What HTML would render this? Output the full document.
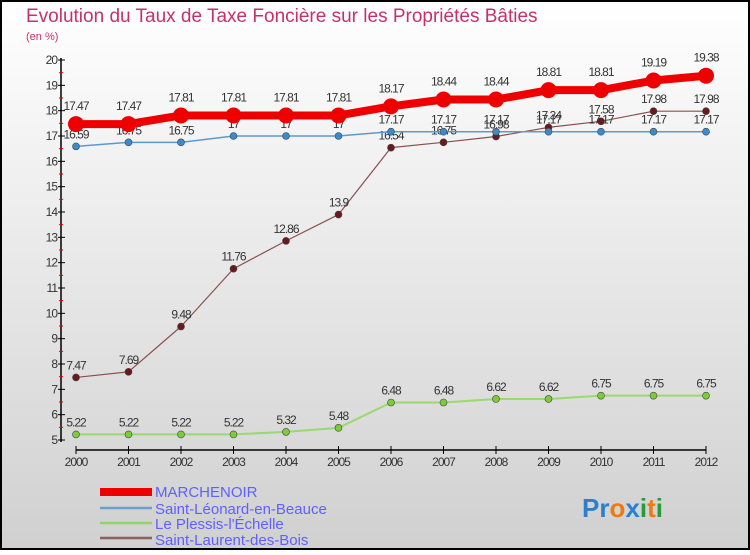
<!DOCTYPE html>
<html><head><meta charset="utf-8"><style>
body{margin:0;width:750px;height:550px;overflow:hidden;font-family:"Liberation Sans",sans-serif}
</style></head><body>
<svg id="chart" width="750" height="550" xmlns="http://www.w3.org/2000/svg">
<defs><linearGradient id="bg" x1="0" y1="0" x2="0" y2="1"><stop offset="0" stop-color="#ffffff"/><stop offset="1" stop-color="#d0d0d0"/></linearGradient></defs>
<rect x="1" y="1" width="748" height="548" fill="url(#bg)" stroke="#000" stroke-width="2"/>
<text x="26" y="22" font-size="19" fill="#c8306a">Evolution du Taux de Taxe Foncière sur les Propriétés Bâties</text>
<text x="26" y="40" font-size="11" fill="#c8306a">(en %)</text>
<g id="axes"></g><g id="series"></g>
<g>
<rect x="100" y="488" width="52" height="8" fill="#e00"/>
<text x="155" y="497" font-size="15" fill="#6060ff">MARCHENOIR</text>
<line x1="100" y1="508" x2="152" y2="508" stroke="#6a9fcf" stroke-width="2.5"/>
<text x="155" y="514" font-size="15" fill="#6060ff">Saint-Léonard-en-Beauce</text>
<line x1="100" y1="523" x2="152" y2="523" stroke="#8fd46a" stroke-width="2.5"/>
<text x="155" y="529" font-size="15" fill="#6060ff">Le Plessis-l'Échelle</text>
<line x1="100" y1="538" x2="152" y2="538" stroke="#8a6060" stroke-width="2.5"/>
<text x="155" y="545" font-size="15" fill="#6060ff">Saint-Laurent-des-Bois</text>
</g>
<text x="582" y="517" font-size="26" font-weight="bold"><tspan fill="#2a7fd0">Pr</tspan><tspan fill="#f07a10">o</tspan><tspan fill="#2a7fd0">x</tspan><tspan fill="#2a9a3a">i</tspan><tspan fill="#f07a10">t</tspan><tspan fill="#2a9a3a">i</tspan></text>
</svg>
<script>
const years=[2000,2001,2002,2003,2004,2005,2006,2007,2008,2009,2010,2011,2012];
const yTicks=[5,6,7,8,9,10,11,12,13,14,15,16,17,18,19,20];
const marchenoir=[17.47,17.47,17.81,17.81,17.81,17.81,18.17,18.44,18.44,18.81,18.81,19.19,19.38];
const saintLeonard=[16.59,16.75,16.75,17,17,17,17.17,17.17,17.17,17.17,17.17,17.17,17.17];
const lePlessis=[5.22,5.22,5.22,5.22,5.32,5.48,6.48,6.48,6.62,6.62,6.75,6.75,6.75];
const saintLaurent=[7.47,7.69,9.48,11.76,12.86,13.9,16.54,16.75,16.98,17.34,17.58,17.98,17.98];
const NS="http://www.w3.org/2000/svg";
const xS=i=>76+i*52.5;
const yS=v=>440-(v-5)*(380/15);
function mk(tag,attrs,parent,txt){const e=document.createElementNS(NS,tag);for(const k in attrs)e.setAttribute(k,attrs[k]);if(txt!==undefined)e.textContent=txt;parent.appendChild(e);return e;}
const ax=document.getElementById('axes');
let e=mk('line',{x1:61,y1:58,x2:61,y2:442,stroke:'#000','stroke-width':1.5},ax);


e=mk('line',{x1:76,y1:450,x2:706,y2:450,stroke:'#000','stroke-width':1.5},ax);


yTicks.forEach(v=>{
  mk('line',{x1:58,y1:yS(v),x2:65,y2:yS(v),stroke:'#000'},ax);
  if(v<20) mk('line',{x1:59,y1:yS(v+0.5),x2:63,y2:yS(v+0.5),stroke:'#e00'},ax);
  e=mk('text',{x:57,y:yS(v)+4,'font-size':12,'text-anchor':'end',fill:'#333','letter-spacing':'-1'},ax,String(v));
  
  
});
years.forEach((y,i)=>{
  mk('line',{x1:xS(i),y1:446,x2:xS(i),y2:454,stroke:'#000'},ax);
  e=mk('text',{x:xS(i),y:466,'font-size':12,'text-anchor':'middle',fill:'#333','letter-spacing':'-1'},ax,String(y));
  
  
});
const sg=document.getElementById('series');
function draw(name,data,color,w,r,dot){
  const g=mk('g',{},sg);
  
  
  const l=mk('polyline',{points:data.map((v,i)=>xS(i)+','+yS(v)).join(' '),fill:'none',stroke:color,'stroke-width':w,'stroke-linejoin':'round'},g);
  
  
  data.forEach((v,i)=>{
    const c=mk('circle',{cx:xS(i),cy:yS(v),r:r,fill:dot,stroke:'#444','stroke-width':r>5?0:0.6},g);
    
    
    const t=mk('text',{x:xS(i),y:yS(v)-(r>5?14:8),'font-size':12,'text-anchor':'middle',fill:'#333','letter-spacing':'-1'},g,String(v));
    
    
  });
}
draw('le-plessis',lePlessis,'#9ad870',2,3.5,'#7ccc3a');
draw('saint-laurent',saintLaurent,'#8a5050',1.2,3.5,'#6a1a1a');
draw('saint-leonard',saintLeonard,'#5a9ad0',1.5,3.5,'#3a8ad0');
draw('marchenoir',marchenoir,'#ee0000',8,8,'#ee0000');
</script>
</body></html>
